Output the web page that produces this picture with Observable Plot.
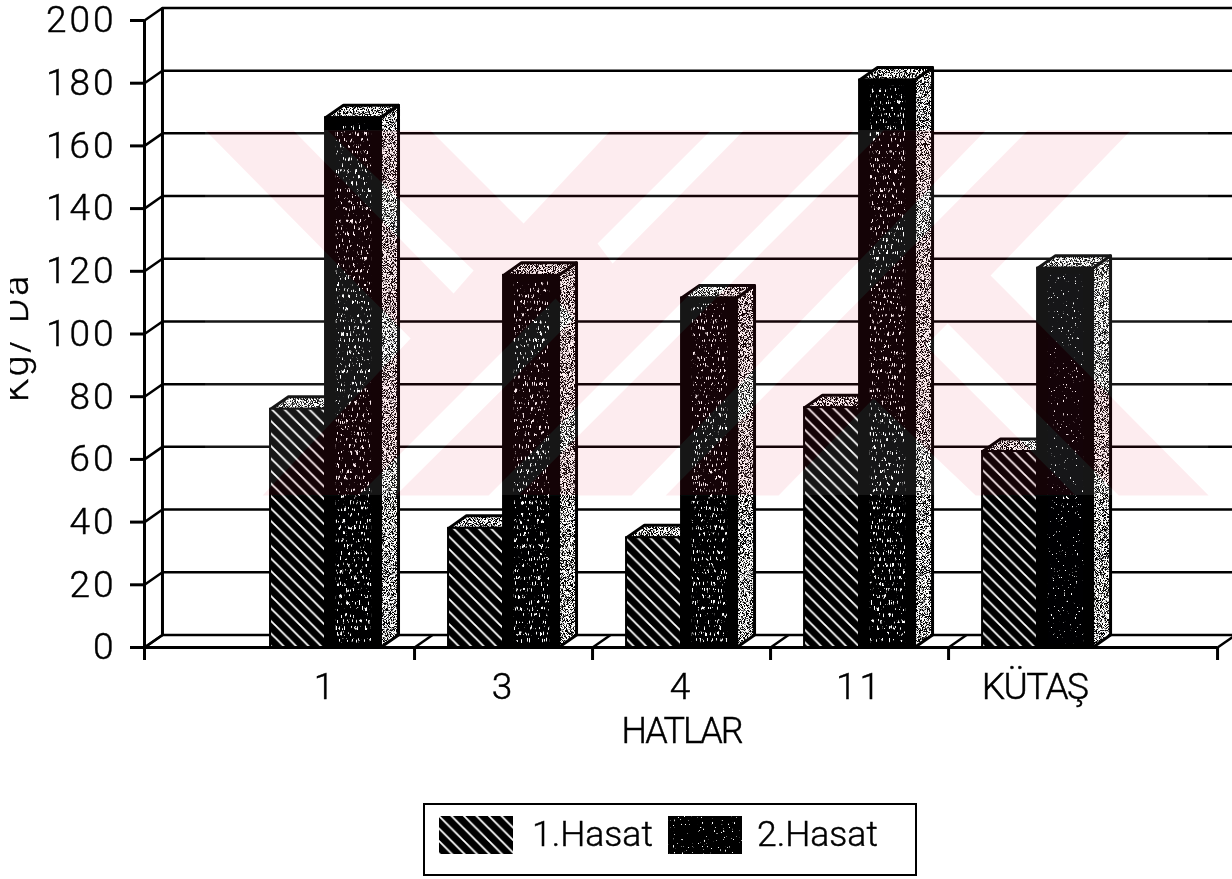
<!DOCTYPE html>
<html lang="tr">
<head>
<meta charset="utf-8">
<script src="https://cdn.jsdelivr.net/npm/d3@7"></script>
<script src="https://cdn.jsdelivr.net/npm/@observablehq/plot@0.6"></script>
<style>
html,body{margin:0;padding:0;background:#fff;overflow:hidden}
#page{position:relative;width:1232px;height:879px;font-family:Roboto,sans-serif;font-weight:300;color:#000}
#page>svg{display:block}
#page text{stroke:#000;stroke-width:.45px}
#legend{position:absolute;left:423px;top:803px;width:490px;height:69px;border:2.5px solid #000;background:#fff}
#legend span{position:absolute;top:7px;font-size:35.5px;letter-spacing:0;line-height:44px;-webkit-text-stroke:.45px #000}
#legend svg{position:absolute;top:11px}
#edge{position:absolute;left:0;top:0;width:10px;height:800px;background:#fff}
</style>
</head>
<body>
<div id="page"></div>
<script>
// ---- chart values ----
const categories = ["1", "3", "4", "11", "KÜTAŞ"];
const hasat1 = [76, 38, 35, 76.5, 62.5];
const hasat2 = [169, 118.7, 111.5, 181, 121];
const yTicks = [0, 20, 40, 60, 80, 100, 120, 140, 160, 180, 200];
const seriesNames = ["1.Hasat", "2.Hasat"];

// slot geometry (x = category slot, y = kg/da)
const xLo = -1.017, xHi = 5.095, xEnd = 5.011;
const barW = 0.309, depX = 0.101, depY = 4;
const xBounds = [xLo, 0.5, 1.5, 2.5, 3.5, xEnd];
const slots = categories.map((_, i) => i);

const bars1 = slots.map(i => ({x1: i - barW, x2: i, v: hasat1[i], id: "a" + i}));
const bars2 = slots.map(i => ({x1: i, x2: i + barW, v: hasat2[i], id: "b" + i}));
const topFace = b => [[b.x1, b.v], [b.x1 + depX, b.v + depY], [b.x2 + depX, b.v + depY], [b.x2, b.v], [b.x1, b.v]]
  .map(([x, y]) => ({x, y, id: b.id}));
const sideFace = b => [[b.x2, 0], [b.x2 + depX, depY], [b.x2 + depX, b.v + depY], [b.x2, b.v], [b.x2, 0]]
  .map(([x, y]) => ({x, y, id: b.id}));
const tops1 = bars1.flatMap(topFace), tops2 = bars2.flatMap(topFace), sides2 = bars2.flatMap(sideFace);

// faint background stamp, on its own 1003 x 365 grid
const stampOuter = [[0,0],[925,0],[785,145],[1003,365],[57,365],[205,208]];
const stampHoles = [
  [[88,0],[122,0],[268,140],[248,163]],
  [[225,0],[405,0],[318,93]],
  [[153,365],[190,365],[368,188],[350,168]],
  [[505,0],[538,0],[407,133],[392,113]],
  [[648,0],[678,0],[313,365],[283,365]],
  [[780,0],[822,0],[460,365],[426,365]],
  [[668,268],[770,365],[573,365]],
  [[742,193],[913,365],[870,365],[720,215]]
];
const stampX = d3.scaleLinear([0, 1003], [-0.674, 4.961]);
const stampY = d3.scaleLinear([0, 365], [164.9, 48.5]);
const stampRows = [stampOuter, ...stampHoles].flatMap(r => [...r, r[0], [NaN, NaN]]).map(([u, v]) => ({x: stampX(u), y: stampY(v)}));

const ink = {stroke: "#000"};
const STIP = "#fffffe", SPECK = "#000001", SPECKLOW = "#000002", STAMP = "#021310";
const svg = Plot.plot({
  width: 1232, height: 790,
  marginLeft: 144, marginRight: 0, marginTop: 20, marginBottom: 143,
  x: {type: "linear", domain: [xLo, xHi]},
  y: {domain: [0, 200]},
  style: {fontFamily: "Roboto, sans-serif", fontWeight: 300, letterSpacing: "3px", background: "#fff", color: "#000", overflow: "hidden"},
  marks: [
    Plot.frame({fill: "#fff", stroke: "none"}),
    // back wall grid
    Plot.ruleY(yTicks, {y: d => d + depY, x1: () => xLo + depX, x2: () => xHi, ...ink, strokeWidth: 2.5}),
    Plot.ruleX([xLo + depX], {y1: () => depY, y2: () => 200 + depY, ...ink, strokeWidth: 3}),
    // side wall
    Plot.ruleX([xLo], {y1: () => 0, y2: () => 200, ...ink, strokeWidth: 3}),
    Plot.link(yTicks, {x1: () => xLo, y1: d => d, x2: () => xLo + depX, y2: d => d + depY, ...ink, strokeWidth: 2.5}),
    // floor
    Plot.ruleY([0], {x1: () => xLo, x2: () => xEnd, ...ink, strokeWidth: 3}),
    Plot.link(xBounds, {x1: d => d, y1: () => 0, x2: d => d + depX, y2: () => depY, ...ink, strokeWidth: 2.5}),
    // axes
    Plot.axisY(yTicks, {tickSize: 14, tickPadding: 14, fontSize: 37, strokeWidth: 3, tickFormat: d => d}),
    Plot.axisX(xBounds, {tickSize: 13, tickFormat: () => "", strokeWidth: 3}),
    Plot.axisX(slots, {tickSize: 0, tickPadding: 25, fontSize: 37, tickFormat: i => categories[i]}),
    Plot.text(["HATLAR"], {x: () => 2, y: () => 0, dy: 84, fontSize: 36, text: d => d}),
    Plot.text(["Kg/ Da"], {y: () => 98.9, frameAnchor: "left", dx: -117, rotate: -90, lineAnchor: "bottom", textAnchor: "middle", fontSize: 37, text: d => d}),
    // first harvest
    Plot.line(tops1, {x: "x", y: "y", z: "id", fill: STIP, stroke: "none"}),
    Plot.line(tops1, {x: "x", y: "y", z: "id", ...ink, strokeWidth: 3}),
    Plot.rect(bars1, {x1: "x1", x2: "x2", y1: () => 0, y2: "v", fill: "url(#hatch)", ...ink, strokeWidth: 2}),
    // second harvest
    Plot.line(sides2, {x: "x", y: "y", z: "id", fill: STIP, stroke: "none"}),
    Plot.line(sides2, {x: "x", y: "y", z: "id", ...ink, strokeWidth: 3}),
    Plot.line(tops2, {x: "x", y: "y", z: "id", fill: STIP, stroke: "none"}),
    Plot.line(tops2, {x: "x", y: "y", z: "id", ...ink, strokeWidth: 3}),
    Plot.rect(bars2, {x1: "x1", x2: "x2", y1: () => 0, y2: "v", fill: "#000", ...ink, strokeWidth: 2}),
    Plot.rect(bars2.slice(0, 4), {x1: d => d.x1 + 0.06, x2: d => d.x2 - 0.05, y1: () => 1, y2: d => d.v - 2, fill: SPECK}),
    Plot.rect(bars2.slice(4), {x1: d => d.x1 + 0.06, x2: d => d.x2 - 0.05, y1: () => 1, y2: d => d.v - 2, fill: SPECKLOW}),
    // stamp
    Plot.rect([0], {x1: () => stampX(0), x2: () => stampX(1003), y1: () => stampY(0), y2: () => stampY(365), fill: "#161616", mixBlendMode: "screen"}),
    Plot.line(stampRows, {x: "x", y: "y", fill: STAMP, stroke: "none", mixBlendMode: "difference"})
  ]
});

const defs = `
<defs>
<pattern id="hatch" patternUnits="userSpaceOnUse" width="12.5" height="12.5">
  <rect width="12.5" height="12.5" fill="#000"/>
  <path d="M-2,-2L14.5,14.5M-2,10.5L2,14.5M10.5,-2L14.5,2" stroke="#fff" stroke-width="1.8"/>
</pattern>
<filter id="speck" x="-2%" y="-1%" width="104%" height="102%" color-interpolation-filters="sRGB">
  <feTurbulence type="fractalNoise" baseFrequency="1.0 0.16" numOctaves="3" seed="7" result="n"/>
  <feColorMatrix in="n" values="0 0 0 0 1 0 0 0 0 1 0 0 0 0 1 14 0 0 0 -8.4" result="m"/>
  <feComposite in="m" in2="SourceAlpha" operator="in" result="s"/>
  <feMerge><feMergeNode in="SourceGraphic"/><feMergeNode in="s"/></feMerge>
</filter>
<filter id="specklow" x="-2%" y="-1%" width="104%" height="102%" color-interpolation-filters="sRGB">
  <feTurbulence type="fractalNoise" baseFrequency="1.1 0.3" numOctaves="3" seed="11" result="n"/>
  <feColorMatrix in="n" values="0 0 0 0 1 0 0 0 0 1 0 0 0 0 1 14 0 0 0 -10" result="m"/>
  <feComposite in="m" in2="SourceAlpha" operator="in" result="s"/>
  <feMerge><feMergeNode in="SourceGraphic"/><feMergeNode in="s"/></feMerge>
</filter>
<filter id="stipple" x="0" y="0" width="100%" height="100%" color-interpolation-filters="sRGB">
  <feTurbulence type="fractalNoise" baseFrequency="1.3" numOctaves="2" seed="4" result="n"/>
  <feColorMatrix in="n" values="0 0 0 0 0 0 0 0 0 0 0 0 0 0 0 10 0 0 0 -4.7" result="m"/>
  <feComposite in="m" in2="SourceAlpha" operator="in" result="s"/>
  <feMerge><feMergeNode in="SourceGraphic"/><feMergeNode in="s"/></feMerge>
</filter>
</defs>`;
svg.insertAdjacentHTML("afterbegin", defs);
const byFill = (fill, sel) => svg.querySelectorAll(`[fill="${fill}"] ${sel}, ${sel}[fill="${fill}"]`);
byFill(STIP, "path").forEach(n => n.setAttribute("filter", "url(#stipple)"));
byFill(SPECK, "rect").forEach(n => n.setAttribute("filter", "url(#speck)"));
byFill(SPECKLOW, "rect").forEach(n => n.setAttribute("filter", "url(#specklow)"));
byFill(STAMP, "path").forEach(n => n.setAttribute("fill-rule", "evenodd"));
// the word labels run tighter than the digits
svg.querySelectorAll("text").forEach(t => {
  if (t.textContent === "KÜTAŞ") { t.style.letterSpacing = "-1.5px"; t.setAttribute("dx", "-3"); }
  if (t.textContent === "HATLAR") t.style.letterSpacing = "-2px";
});

const page = document.getElementById("page");
page.appendChild(svg);
page.insertAdjacentHTML("beforeend", `
<div id="edge"></div>
<div id="legend">
  <svg style="left:13.5px" width="74" height="38"><rect width="74" height="38" fill="url(#hatch)"/></svg>
  <span style="left:107px">${seriesNames[0]}</span>
  <svg style="left:242.5px" width="74" height="38"><rect width="74" height="38" fill="#000" filter="url(#specklow)"/></svg>
  <span style="left:332px">${seriesNames[1]}</span>
</div>`);
</script>
</body>
</html>
